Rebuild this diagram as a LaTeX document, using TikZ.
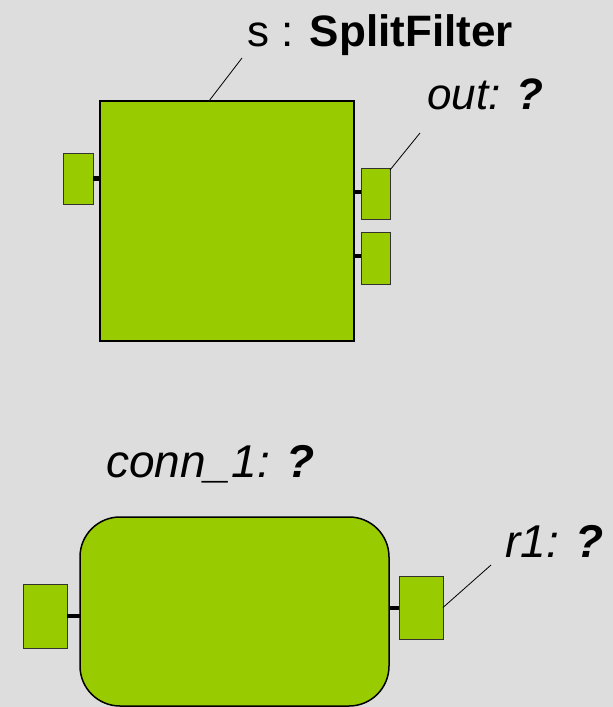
\documentclass[tikz,border=0pt]{standalone}
\usepackage{fontspec}
\setmainfont{Liberation Sans}
\usepackage{xcolor}
\usepackage{tikz}
\usetikzlibrary{positioning}
\definecolor{bggray}{HTML}{DDDDDD}
\definecolor{partgreen}{HTML}{99CC00}
\tikzstyle{part} = [rectangle, 
inner sep=0pt, outer sep=0pt,
draw=black, 
line width=1.5pt,
fill=partgreen]
\tikzstyle{connector} = [part, 
rounded corners=40pt]
\tikzstyle{port} = [rectangle, 
inner sep=0pt, outer sep=0pt,
minimum width=30pt, 
minimum height=51pt, 
draw=black!80, 
line width=1pt,
fill=partgreen]
\tikzstyle{bigport} = [port, 
minimum width=44pt, 
minimum height=64pt]
\tikzstyle{wire} = [line width=4.5pt, black]
\tikzstyle{leader} = [line width=0.8pt, black]
\tikzstyle{partname} = [inner sep=0pt, 
anchor=base west, 
font=\fontsize{44}{50}\selectfont]
\tikzstyle{bigname} = [partname, 
font=\fontsize{46}{52}\selectfont]

\begin{document}
\begin{tikzpicture}[x=1pt,y=-1pt]

\fill [bggray] (0,0) rectangle (613,707);

\node (filter) [part, minimum width=254pt, minimum height=240pt] at (227,221) {};
\node (in) [port] at (78,178.5) {};
\node (out1) [port, minimum width=29pt] at (375.5,193.5) {};
\node (out2) [port, minimum width=29pt, minimum height=52pt] at (375.5,258) {};

\node (conn) [connector, minimum width=309pt, minimum height=189pt] at (234.5,611.5) {};
\node (lport) [bigport] at (45,616) {};
\node (rport) [bigport, minimum height=63pt] at (421,607.5) {};

\node (title) [partname] at (247,46) {s : \textbf{SplitFilter}};
\node (outname) [partname] at (427,109) {\textit{out: \textbf{?}}};
\node (connname) [bigname] at (106,477) {\textit{conn\_1: \textbf{?}}};
\node (r1name) [bigname] at (505,557) {\textit{r1: \textbf{?}}};

\coordinate (titlefoot) at (242,58);
\coordinate (outfoot) at (420,133);
\coordinate (r1foot) at (491,565);

\draw [wire] (in.east) -- (filter.west |- in.east);
\draw [wire] (filter.east |- 0,192) -- (out1.west |- 0,192);
\draw [wire] (filter.east |- 0,256) -- (out2.west |- 0,256);
\draw [wire] (lport.east) -- (conn.west |- lport.east);
\draw [wire] (conn.east |- 0,608) -- (rport.west |- 0,608);

\draw [leader] (titlefoot) -- ([xshift=-18pt]filter.north);
\draw [leader] (outfoot) -- ([yshift=-2pt]out1.north east);
\draw [leader] (r1foot) -- (rport.east);

\end{tikzpicture}
\end{document}
